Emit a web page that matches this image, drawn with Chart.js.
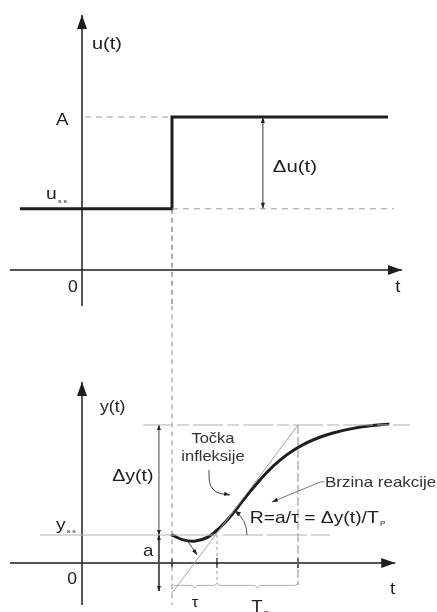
<!DOCTYPE html>
<html>
<head>
<meta charset="utf-8">
<script src="https://cdn.jsdelivr.net/npm/chart.js@4"></script>
<style>
  html,body{margin:0;padding:0;background:#fff;}
  #wrap{position:relative;width:437px;height:612px;overflow:hidden;background:#fff;}
  canvas{position:absolute;left:0;}
  #c1{top:0;}
  #c2{top:306px;}
</style>
</head>
<body>
<div id="wrap">
  <canvas id="c1" width="437" height="306"></canvas>
  <canvas id="c2" width="437" height="306"></canvas>
</div>
<script>
// ---------- data (time units t, signal units) ----------
const stepTime = 2;          // time of the step
const uSS = 2;               // input steady state
const uA = 5;                // input after step (A)
const ySS = 2;               // output steady state
const yFinal = 9.86;         // output final value
const tauEnd = 3;            // stepTime + tau
const tpEnd = 4.8;           // tauEnd + Tp
const tangentStartY = -2.14; // tangent value at stepTime
const deltaUTime = 4.02;     // where delta-u arrow is drawn
const deltaYTime = 1.71;     // where delta-y arrow is drawn

const curveT = [2.0, 2.25, 2.5, 2.8, 3.07, 3.33, 3.55, 3.8, 4.1, 4.4, 4.7, 5.0, 5.3, 5.6, 6.0, 6.4, 6.8];
const curveY = [2.0, 1.65, 1.56, 1.85, 2.55, 3.45, 4.35, 5.35, 6.45, 7.35, 8.05, 8.6, 9.0, 9.3, 9.6, 9.8, 9.92];

const topTexts = ['u(t)', 'A', 'u', 'Δu(t)', '0', 't'];
const bottomTexts = ['y(t)', 'Δy(t)', 'Točka', 'infleksije', 'Brzina reakcije', 'R=a/τ = Δy(t)/T', 'y', 'a', '0', 't', 'τ', 'T'];

// ---------- helpers ----------
const INK = '#1e1e1e';
const GRAY = '#a8a8a8';
const DGRAY = '#555';
const FONT = '"Liberation Sans", Arial, sans-serif';

function pts(xs, ys){ return xs.map((x,i)=>({x:x, y:ys[i]})); }
function seg(a, b, style){
  return Object.assign({data:[a,b], showLine:true, pointRadius:0, borderWidth:1, borderColor:GRAY, tension:0, clip:false}, style||{});
}

const arrowPlugin = {
  id:'arrows',
  afterDatasetsDraw(chart){
    const ctx = chart.ctx;
    chart.data.datasets.forEach((ds, i)=>{
      if(!ds.arrow) return;
      const m = chart.getDatasetMeta(i).data;
      if(m.length < 2) return;
      const L = ds.arrow.len || 8, W = ds.arrow.wid || 5;
      const draw = (tip, from)=>{
        const dx = tip.x-from.x, dy = tip.y-from.y, d = Math.hypot(dx,dy)||1;
        const ux = dx/d, uy = dy/d;
        ctx.save();
        ctx.fillStyle = ds.arrow.color || ds.borderColor;
        ctx.beginPath();
        ctx.moveTo(tip.x, tip.y);
        ctx.lineTo(tip.x-ux*L - uy*W/2, tip.y-uy*L + ux*W/2);
        ctx.lineTo(tip.x-ux*L + uy*W/2, tip.y-uy*L - ux*W/2);
        ctx.closePath(); ctx.fill(); ctx.restore();
      };
      if(ds.arrow.end) draw(m[m.length-1], m[m.length-2]);
      if(ds.arrow.start) draw(m[0], m[1]);
    });
  }
};

const textPlugin = {
  id:'texts',
  afterDraw(chart, args, opts){
    const ctx = chart.ctx, xs = chart.scales.x, ys = chart.scales.y;
    (opts.items||[]).forEach(it=>{
      const px = xs.getPixelForValue(it.t), py = ys.getPixelForValue(it.v);
      const sx = it.sx || 1.2;
      ctx.save();
      ctx.translate(px, py);
      ctx.scale(sx, 1);
      ctx.fillStyle = it.color || INK;
      ctx.font = (it.size||16) + 'px ' + FONT;
      ctx.textAlign = it.align || 'left';
      ctx.textBaseline = 'middle';
      ctx.fillText(it.text, 0, 0);
      if(it.sub){
        const w = ctx.measureText(it.text).width;
        const x0 = it.align==='center' ? w/2 : w;
        ctx.font = (it.subSize||8) + 'px ' + FONT;
        ctx.textAlign = 'left';
        ctx.fillText(it.sub, x0 + (it.subDx||1), (it.subDy||6));
      }
      ctx.restore();
    });
  }
};

const arcPlugin = {
  id:'angleArc',
  afterDatasetsDraw(chart, args, opts){
    if(!opts.enabled) return;
    const ctx = chart.ctx, xs = chart.scales.x, ys = chart.scales.y;
    const cx = xs.getPixelForValue(opts.t), cy = ys.getPixelForValue(opts.v);
    const p2x = xs.getPixelForValue(tpEnd), p2y = ys.getPixelForValue(yFinal);
    const ang = Math.atan2(p2y-cy, p2x-cx);
    const r = opts.r;
    ctx.save();
    ctx.strokeStyle = DGRAY; ctx.lineWidth = 1;
    ctx.beginPath(); ctx.arc(cx, cy, r, ang, 0); ctx.stroke();
    const tx = cx + r*Math.cos(ang), ty = cy + r*Math.sin(ang);
    const dirx = Math.sin(ang), diry = -Math.cos(ang);
    ctx.fillStyle = INK;
    ctx.beginPath();
    ctx.moveTo(tx, ty);
    ctx.lineTo(tx - dirx*6 + diry*2.5, ty - diry*6 - dirx*2.5);
    ctx.lineTo(tx - dirx*6 - diry*2.5, ty - diry*6 + dirx*2.5);
    ctx.closePath(); ctx.fill();
    ctx.restore();
  }
};

function baseOptions(xmin, xmax, ymin, ymax, texts, arc){
  return {
    responsive:false, animation:false, events:[],
    layout:{padding:0},
    scales:{
      x:{type:'linear', min:xmin, max:xmax, display:false},
      y:{type:'linear', min:ymin, max:ymax, display:false}
    },
    plugins:{legend:{display:false}, tooltip:{enabled:false}, texts:{items:texts}, angleArc:arc||{enabled:false}}
  };
}

// ---------- top chart: input step u(t) ----------
const PXU = 45;
const xMin = -82/PXU, xMax = (437-82)/PXU;

const topDatasets = [
  seg({x:0.07,y:uA},{x:stepTime,y:uA},{borderColor:'#9a9a9a', borderDash:[6,5]}),
  seg({x:stepTime,y:uSS},{x:6.93,y:uSS},{borderColor:'#9a9a9a', borderDash:[6,5]}),
  seg({x:stepTime,y:uSS},{x:stepTime,y:-1.2},{borderColor:DGRAY, borderDash:[5,4]}),
  seg({x:0,y:-1.2},{x:0,y:8.33},{borderColor:INK, borderWidth:1.5, arrow:{end:true,len:14,wid:10,color:INK}}),
  seg({x:-1.6,y:0},{x:7.11,y:0},{borderColor:INK, borderWidth:1.5, arrow:{end:true,len:14,wid:10,color:INK}}),
  seg({x:deltaUTime,y:uSS},{x:deltaUTime,y:uA},{borderColor:'#333', borderWidth:1, arrow:{start:true,end:true,len:6,wid:4,color:INK}}),
  {data:[{x:-1.38,y:uSS},{x:stepTime,y:uSS},{x:stepTime,y:uA},{x:6.8,y:uA}], showLine:true, pointRadius:0, borderWidth:3, borderColor:INK, tension:0, clip:false, borderJoinStyle:'miter'}
];

const topItems = [
  {text:topTexts[0], t:0.22, v:7.35, size:16, sx:1.25},
  {text:topTexts[1], t:-0.44, v:4.9, size:17, align:'center', sx:1.1},
  {text:topTexts[2], t:-0.8, v:2.45, size:16, sub:'s s', subSize:6, subDy:6, sx:1.2},
  {text:topTexts[3], t:4.24, v:3.37, size:17, sx:1.2},
  {text:topTexts[4], t:-0.2, v:-0.56, size:16, align:'center', sx:1.1},
  {text:topTexts[5], t:7.02, v:-0.56, size:17, align:'center', sx:1.1}
];

new Chart(document.getElementById('c1'), {
  type:'scatter',
  data:{datasets:topDatasets},
  options:baseOptions(xMin, xMax, -36/30.6, 270/30.6, topItems),
  plugins:[arrowPlugin, textPlugin]
});

// ---------- bottom chart: output y(t) ----------
function brace(a, b, v, depth){
  const m = (a+b)/2, e = 0.05;
  return [{x:a,y:v+0.15},{x:a+e,y:v},{x:m-e,y:v},{x:m,y:v-depth},{x:m+e,y:v},{x:b-e,y:v},{x:b,y:v+0.15}];
}

const bottomDatasets = [
  seg({x:-0.93,y:ySS},{x:tauEnd,y:ySS},{borderColor:'#b0b0b0'}),
  seg({x:3.13,y:ySS},{x:5.51,y:ySS},{borderColor:'#b0b0b0', borderDash:[40,4]}),
  seg({x:1.36,y:yFinal},{x:7.29,y:yFinal},{borderColor:'#b0b0b0', borderDash:[30,4,12,4]}),
  seg({x:stepTime,y:tangentStartY},{x:tpEnd,y:yFinal},{borderColor:'#a0a0a0'}),
  seg({x:stepTime,y:18.4},{x:stepTime,y:-3.0},{borderColor:'#8a8a8a', borderDash:[5,4]}),
  seg({x:tpEnd,y:yFinal},{x:tpEnd,y:-1.57},{borderColor:'#8a8a8a', borderDash:[9,3]}),
  seg({x:tauEnd,y:ySS},{x:tauEnd,y:-1.5},{borderColor:'#9a9a9a', borderDash:[3,3]}),
  {data:brace(stepTime, tauEnd, -1.6, 0.2), showLine:true, pointRadius:0, borderWidth:1, borderColor:'#b0b0b0', tension:0, clip:false},
  {data:brace(tauEnd, tpEnd, -1.6, 0.2), showLine:true, pointRadius:0, borderWidth:1, borderColor:'#b0b0b0', tension:0, clip:false},
  seg({x:deltaYTime,y:ySS},{x:deltaYTime,y:yFinal},{borderColor:'#444', arrow:{start:true,end:true,len:5,wid:4,color:INK}}),
  seg({x:deltaYTime,y:ySS},{x:deltaYTime,y:-2.0},{borderColor:'#444', arrow:{start:true,end:true,len:5,wid:4,color:INK}}),
  seg({x:0,y:-3.0},{x:0,y:12.93},{borderColor:INK, borderWidth:1.5, arrow:{end:true,len:14,wid:10,color:INK}}),
  seg({x:-1.6,y:0},{x:6.96,y:0},{borderColor:INK, borderWidth:1.5, arrow:{end:true,len:14,wid:10,color:INK}}),
  seg({x:stepTime,y:-0.3},{x:stepTime,y:0.3},{borderColor:INK, borderWidth:1.5}),
  seg({x:tauEnd,y:-0.35},{x:tauEnd,y:0.35},{borderColor:INK, borderWidth:1.5}),
  seg({x:tpEnd,y:-0.35},{x:tpEnd,y:0.35},{borderColor:INK, borderWidth:1.5}),
  {data:[{x:2.82,y:6.64},{x:2.85,y:5.6},{x:3.0,y:5.05},{x:3.29,y:4.86}], showLine:true, pointRadius:0, borderWidth:1, borderColor:'#444', tension:0.35, clip:false, arrow:{end:true,len:6,wid:4,color:INK}},
  {data:[{x:5.38,y:5.79},{x:5.3,y:5.79},{x:4.22,y:4.36}], showLine:true, pointRadius:0, borderWidth:1, borderColor:'#777', tension:0, clip:false, arrow:{end:true,len:6,wid:4,color:INK}},
  seg({x:2.33,y:1.64},{x:2.56,y:0.57},{borderColor:'#444', arrow:{end:true,len:6,wid:4,color:INK}}),
  {data:pts(curveT, curveY), showLine:true, pointRadius:0, borderWidth:3, borderColor:INK, tension:0.4, clip:false, borderCapStyle:'round'}
];

const bottomItems = [
  {text:bottomTexts[0], t:0.4, v:11.1, size:16, sx:1.1},
  {text:bottomTexts[1], t:0.67, v:6.2, size:17, sx:1.15},
  {text:bottomTexts[2], t:2.91, v:8.9, size:15, align:'center', color:'#333', sx:1.1},
  {text:bottomTexts[3], t:2.91, v:7.57, size:15, align:'center', color:'#333', sx:1.1},
  {text:bottomTexts[4], t:5.4, v:5.75, size:14.5, color:'#333', sx:1.17},
  {text:bottomTexts[5], t:3.73, v:3.2, size:16.5, sub:'P', subSize:7, subDy:6, sx:1.17},
  {text:bottomTexts[6], t:-0.58, v:2.7, size:16, sub:'s s', subSize:6, subDy:6, sx:1.2},
  {text:bottomTexts[7], t:1.47, v:0.8, size:17, align:'center', sx:1.1},
  {text:bottomTexts[8], t:-0.22, v:-1.2, size:16, align:'center', sx:1.1},
  {text:bottomTexts[9], t:6.9, v:-1.9, size:17, align:'center', sx:1.1},
  {text:bottomTexts[10], t:2.51, v:-2.86, size:15, align:'center', sx:1.1},
  {text:bottomTexts[11], t:3.89, v:-3.15, size:17, align:'center', sub:'P', subSize:7, subDy:7, sx:1.1}
];

new Chart(document.getElementById('c2'), {
  type:'scatter',
  data:{datasets:bottomDatasets},
  options:baseOptions(xMin, xMax, -49/14, 257/14, bottomItems, {enabled:true, t:tauEnd, v:ySS, r:30}),
  plugins:[arrowPlugin, textPlugin, arcPlugin]
});
</script>
</body>
</html>
